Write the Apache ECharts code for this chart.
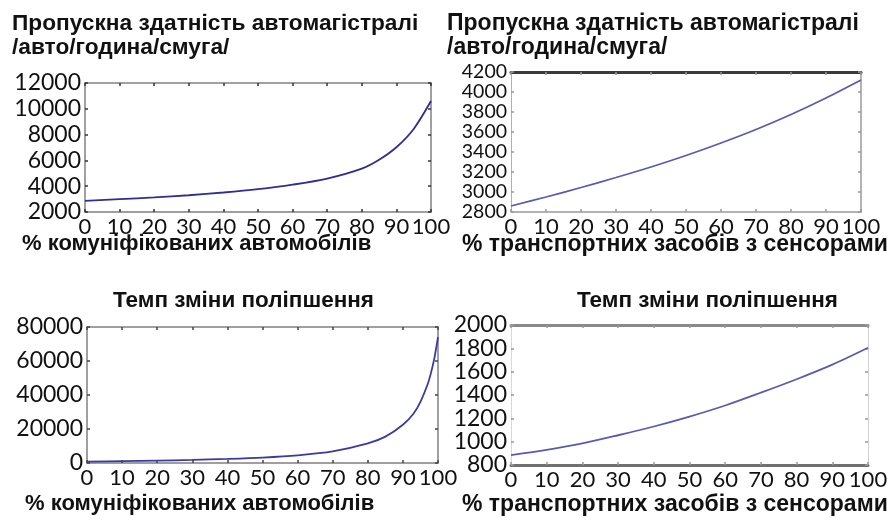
<!DOCTYPE html>
<html>
<head>
<meta charset="utf-8">
<script src="https://cdn.jsdelivr.net/npm/echarts@6/dist/echarts.min.js"></script>
<style>
html,body{margin:0;padding:0;background:#fff;}
#chart{width:893px;height:520px;}
</style>
</head>
<body>
<div id="chart"></div>
<script>
// ---- data ----
var capTitle = ['Пропускна здатність автомагістралі', '/авто/година/смуга/'];
var rateTitle = 'Темп зміни поліпшення';
var xNameComm = '% комуніфікованих автомобілів';
var xNameSens = '% транспортних засобів з сенсорами';

var xComm = [0, 10, 20, 30, 40, 50, 60, 70, 80, 85, 90, 95, 100];
var capComm = [2870, 3000, 3130, 3300, 3510, 3770, 4120, 4590, 5360, 6050, 7020, 8440, 10600];

var xSens = [0, 10, 20, 30, 40, 50, 60, 70, 80, 90, 100];
var capSens = [2860, 2950, 3045, 3145, 3250, 3365, 3490, 3625, 3775, 3940, 4120];

var xRateComm = [0, 10, 20, 30, 40, 50, 60, 70, 80, 85, 90, 93, 95, 97, 98, 99, 100];
var rateComm = [800, 1100, 1400, 1800, 2400, 3200, 4500, 6800, 11500, 15500, 22500, 29000, 36000, 46000, 53000, 62000, 74000];

var xRateSens = [0, 10, 20, 30, 40, 50, 60, 70, 80, 90, 100];
var rateSens = [885, 930, 985, 1055, 1130, 1215, 1310, 1420, 1535, 1660, 1805];

var yTicks1 = {min: 2000, max: 12000, interval: 2000};
var yTicks2 = {min: 2800, max: 4200, interval: 200};
var yTicks3 = {min: 0, max: 80000, interval: 20000};
var yTicks4 = {min: 800, max: 2000, interval: 200};
var xTicks = {min: 0, max: 100, interval: 10};

function pairs(xs, ys) { return xs.map(function (x, i) { return [x, ys[i]]; }); }

// ---- layout ----
var grids = [
  {left: 85, top: 83, width: 346, height: 129},
  {left: 511, top: 72, width: 350, height: 140},
  {left: 87, top: 327, width: 351, height: 136},
  {left: 511, top: 325, width: 357, height: 140}
];
var labelFont = 'Lato, "Open Sans", sans-serif';
var titleFont = '"Liberation Sans", Arial, sans-serif';

var frames = [
  {bottom: {c: '#808080', w: 1.5}, top: {c: '#808080', w: 1.5}, left: {c: '#808080', w: 1.5}, right: {c: '#808080', w: 1.5}, tick: '#333'},
  {bottom: {c: '#9a9a9a', w: 1.5}, top: {c: '#3a3a3a', w: 3}, left: {c: '#b0b0b0', w: 1}, right: {c: '#9a9a9a', w: 1.5}, tick: '#999'},
  {bottom: {c: '#808080', w: 1.5}, top: {c: '#808080', w: 1.5}, left: {c: '#808080', w: 1.5}, right: {c: '#808080', w: 1.5}, tick: '#444'},
  {bottom: {c: '#707070', w: 3}, top: {c: '#8a8a8a', w: 3}, left: {c: '#d8d8d8', w: 1}, right: {c: '#d0d0d0', w: 1}, tick: '#999'}
];
var yT = [yTicks1, yTicks2, yTicks3, yTicks4];
var yFont = [23, 19.5, 23, 23];

function plain(v) { return String(v); }

var xAxes = [], yAxes = [];
grids.forEach(function (g, i) {
  var f = frames[i];
  xAxes.push({
    type: 'value', gridIndex: i, position: 'bottom', min: xTicks.min, max: xTicks.max, interval: xTicks.interval,
    axisLine: {show: true, onZero: false, lineStyle: {color: f.bottom.c, width: f.bottom.w}},
    axisTick: {show: true, inside: true, length: 3, lineStyle: {color: f.tick, width: 1.5}},
    axisLabel: {show: true, color: '#111', fontFamily: labelFont, fontSize: 22, margin: 4,
      formatter: plain, showMinLabel: true, showMaxLabel: true},
    splitLine: {show: false}
  });
  xAxes.push({
    type: 'value', gridIndex: i, position: 'top', min: xTicks.min, max: xTicks.max, interval: xTicks.interval,
    axisLine: {show: true, onZero: false, lineStyle: {color: f.top.c, width: f.top.w}},
    axisTick: {show: true, inside: true, length: 3, lineStyle: {color: f.tick, width: 1.5}},
    axisLabel: {show: false}, splitLine: {show: false}
  });
  yAxes.push({
    type: 'value', gridIndex: i, position: 'left', min: yT[i].min, max: yT[i].max, interval: yT[i].interval,
    axisLine: {show: true, onZero: false, lineStyle: {color: f.left.c, width: f.left.w}},
    axisTick: {show: true, inside: true, length: 3, lineStyle: {color: f.tick, width: 1.5}},
    axisLabel: {show: true, color: '#111', fontFamily: labelFont, fontSize: yFont[i], margin: 4,
      formatter: plain, showMinLabel: true, showMaxLabel: true, hideOverlap: false},
    splitLine: {show: false}
  });
  yAxes.push({
    type: 'value', gridIndex: i, position: 'right', min: yT[i].min, max: yT[i].max, interval: yT[i].interval,
    axisLine: {show: true, onZero: false, lineStyle: {color: f.right.c, width: f.right.w}},
    axisTick: {show: true, inside: true, length: 3, lineStyle: {color: f.tick, width: 1.5}},
    axisLabel: {show: false}, splitLine: {show: false}
  });
});

function lineSeries(idx, data, color) {
  return {
    type: 'line', xAxisIndex: idx * 2, yAxisIndex: idx * 2, data: data,
    showSymbol: false, smooth: 0.3,
    lineStyle: {color: color, width: 1.8}, animation: false
  };
}

var tStyle = {fontFamily: titleFont, fontWeight: 'bold', fontSize: 22.7, color: '#111'};
function T(text, left, top, size) {
  var s = Object.assign({}, tStyle);
  if (size) s.fontSize = size;
  return {text: text, left: left, top: top, textStyle: s, padding: 0};
}

var option = {
  backgroundColor: '#fff',
  animation: false,
  title: [
    T(capTitle[0], 12, 12),
    T(capTitle[1], 12, 36),
    T(capTitle[0], 447, 12, 23),
    T(capTitle[1], 447, 36, 23),
    T(xNameComm, 22, 233, 22),
    T(xNameSens, 462, 233, 23),
    T(rateTitle, 113, 289, 22.5),
    T(rateTitle, 577, 289, 22.5),
    T(xNameComm, 25, 493, 22),
    T(xNameSens, 462, 493, 23)
  ],
  grid: grids,
  xAxis: xAxes,
  yAxis: yAxes,
  series: [
    lineSeries(0, pairs(xComm, capComm), '#2e2e96'),
    lineSeries(1, pairs(xSens, capSens), '#5a5ab4'),
    lineSeries(2, pairs(xRateComm, rateComm), '#3a3aa4'),
    lineSeries(3, pairs(xRateSens, rateSens), '#5a5ab4')
  ]
};

var chart = echarts.init(document.getElementById('chart'), null, {renderer: 'canvas'});
chart.setOption(option);
</script>
</body>
</html>
